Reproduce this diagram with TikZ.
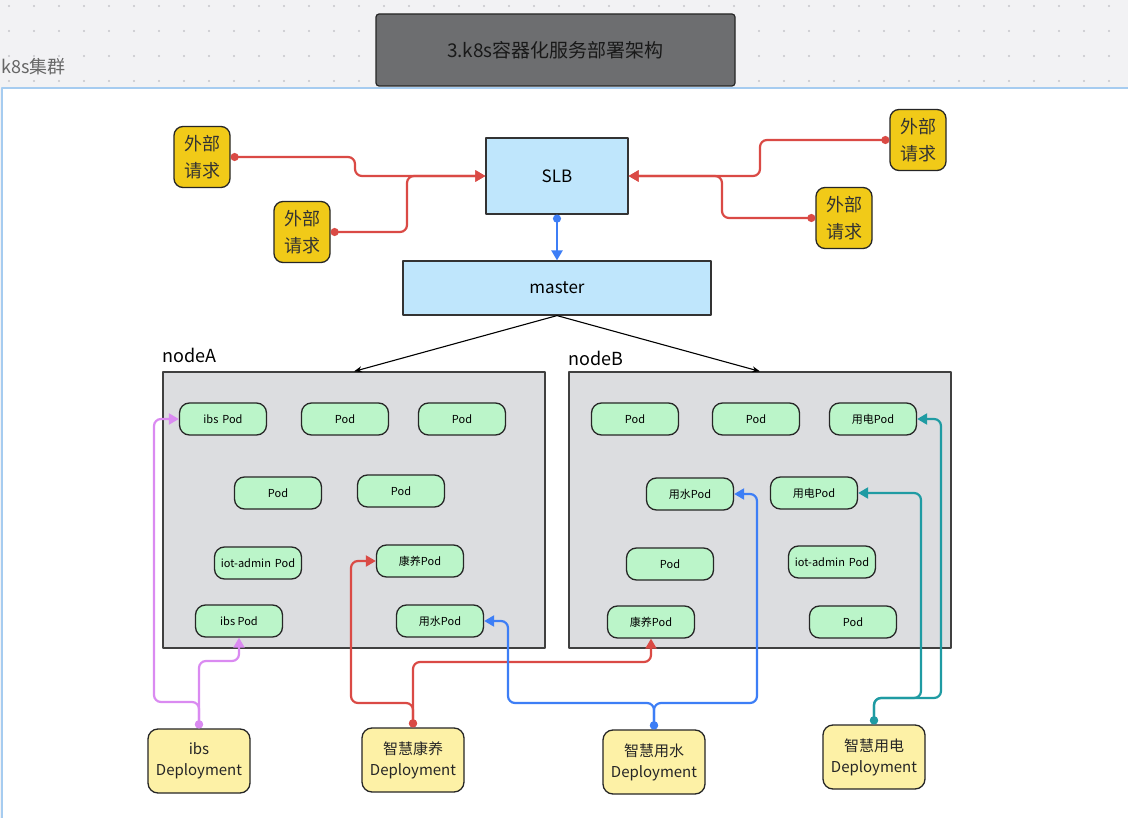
\documentclass[tikz,border=0pt]{standalone}
\usepackage{fontspec}
\setmainfont{Noto Sans CJK SC}
\usetikzlibrary{arrows.meta,positioning}

\definecolor{bgray}{HTML}{F2F2F4}
\definecolor{dotgray}{HTML}{C6C6CA}
\definecolor{frameblue}{HTML}{A6CCF0}
\definecolor{titlegray}{HTML}{6D6E70}
\definecolor{reqyellow}{HTML}{F1CA18}
\definecolor{depyellow}{HTML}{FDF1A6}
\definecolor{slbblue}{HTML}{BFE6FC}
\definecolor{podgreen}{HTML}{BBF5C9}
\definecolor{boxgray}{HTML}{DCDDE0}
\definecolor{linkred}{HTML}{DA4A45}
\definecolor{linkblue}{HTML}{3D7EF6}
\definecolor{linkpurple}{HTML}{DA8AF1}
\definecolor{linkteal}{HTML}{1F9BA3}

\begin{document}
\begin{tikzpicture}[x=1pt,y=-1pt,>=Stealth,line join=round,
  pod node/.style={draw=black!85,line width=1.3pt,fill=podgreen,rounded corners=10pt,minimum width=87pt,minimum height=32pt,inner sep=0pt,font=\fontsize{11}{13}\selectfont},
  req node/.style={draw=black!85,line width=1.3pt,fill=reqyellow,rounded corners=9pt,minimum width=56pt,minimum height=61pt,inner sep=0pt,align=center,font=\fontsize{18}{27}\selectfont,text=black!80},
  dep node/.style={draw=black!85,line width=1.3pt,fill=depyellow,rounded corners=10pt,minimum width=102pt,minimum height=64pt,inner sep=0pt,align=center,font=\fontsize{15}{21}\selectfont,text=black!85},
  main node/.style={draw=black!80,line width=1.2pt,fill=slbblue,inner sep=0pt,font=\fontsize{17}{20}\selectfont},
  host node/.style={draw=black!75,line width=1.2pt,fill=boxgray,minimum width=382pt,minimum height=276pt,inner sep=0pt},
  host label/.style={anchor=south west,inner sep=0pt,font=\fontsize{18}{20}\selectfont},
  link/.style={line width=2.2pt,rounded corners=7pt,arrows={Circle[length=8pt]-Triangle[length=10pt,width=11pt]}}]

% background
\useasboundingbox (0,0) rectangle (1128,818);
\fill[bgray] (0,0) rectangle (1128,818);
\foreach \x in {9,34,...,1128}
  \foreach \y in {6,31,56,81}
    \fill[dotgray] (\x,\y) circle (1.1pt);
\draw[frameblue,fill=white,line width=1.2pt] (2,88) rectangle (1140,830);
\node[anchor=west,inner sep=0pt,text=black!60,font=\fontsize{18}{20}\selectfont] (cluster) at (1,67) {k8s集群};

\node[draw=black!85,line width=1.2pt,fill=titlegray,rounded corners=3pt,minimum width=359pt,minimum height=72pt,text=black!90,font=\fontsize{19}{22}\selectfont] (title) at (555.5,50) {3.k8s容器化服务部署架构};

% slb and master
\node[main node,minimum width=142pt,minimum height=76pt] (slb) at (557,176) {SLB};
\node[main node,minimum width=308pt,minimum height=54pt] (master) at (557,288) {master};

% external requests
\node[req node] (r1) at (202,157) {外部\\请求};
\node[req node] (r2) at (302,232) {外部\\请求};
\node[req node] (r3) at (918,140) {外部\\请求};
\node[req node] (r4) at (844,218) {外部\\请求};

% hosts
\node[host node] (na) at (354,510) {};
\node[host node] (nb) at (760,510) {};
\node[host label] (la) at ([yshift=8pt]na.north west) {nodeA};
\node[host label] (lb) at ([yshift=5pt]nb.north west) {nodeB};

% pods on nodeA
\node[pod node] (a1) at (223,419) {ibs\hspace{4pt}Pod};
\node[pod node] (a2) at (345,419) {Pod};
\node[pod node] (a3) at (462,419) {Pod};
\node[pod node] (a4) at (278,493) {Pod};
\node[pod node] (a5) at (401,491) {Pod};
\node[pod node] (a6) at (258,563) {iot-admin\hspace{4pt}Pod};
\node[pod node] (a7) at (420,561) {康养Pod};
\node[pod node] (a8) at (239,621) {ibs Pod};
\node[pod node] (a9) at (440,621) {用水Pod};

% pods on nodeB
\node[pod node] (b1) at (635,419) {Pod};
\node[pod node] (b2) at (756,419) {Pod};
\node[pod node] (b3) at (873,419) {用电Pod};
\node[pod node] (b4) at (690,494) {用水Pod};
\node[pod node] (b5) at (814,493) {用电Pod};
\node[pod node] (b6) at (670,564) {Pod};
\node[pod node] (b7) at (832,562) {iot-admin\hspace{4pt}Pod};
\node[pod node] (b8) at (651,622) {康养Pod};
\node[pod node] (b9) at (853,622) {Pod};

% deployments
\node[dep node] (d1) at (199,761) {ibs\\Deployment};
\node[dep node] (d2) at (413,760) {智慧康养\\Deployment};
\node[dep node] (d3) at (654,762) {智慧用水\\Deployment};
\node[dep node] (d4) at (874,757) {智慧用电\\Deployment};

% requests into slb
\draw[link,linkred] (r1.east) -- (355,157) |- (slb.west);
\draw[link,linkred] (r2.east) -| (407,176) -- (slb.west);
\draw[link,linkred] (r3.west) -- (760,140) |- (slb.east);
\draw[link,linkred] (r4.west) -| (722,176) -- (slb.east);
\draw[link,linkblue] (slb.south) -- (master.north);

% master to hosts
\draw[->,line width=1.1pt] (master.south) -- (na.north);
\draw[->,line width=1.1pt] (master.south) -- (nb.north);

% deployments to pods
\draw[link,linkpurple] (d1.north) -- (199,702) -| (154,419) -- (a1.west);
\draw[link,linkpurple] (d1.north) -- (199,661) -| (a8.south);
\draw[link,linkred] (d2.north) -- (413,703) -| (351,561) -- (a7.west);
\draw[link,linkred] (d2.north) -- (413,662) -| (b8.south);
\draw[link,linkblue] (d3.north) -- (654,703) -| (508,621) -- (a9.east);
\draw[link,linkblue] (d3.north) -- (654,703) -| (757,494) -- (b4.east);
\draw[link,linkteal] (d4.north) -- (874,698) -| (921,493) -- (b5.east);
\draw[link,linkteal] (d4.north) -- (874,698) -| (941,419) -- (b3.east);
\end{tikzpicture}
\end{document}
